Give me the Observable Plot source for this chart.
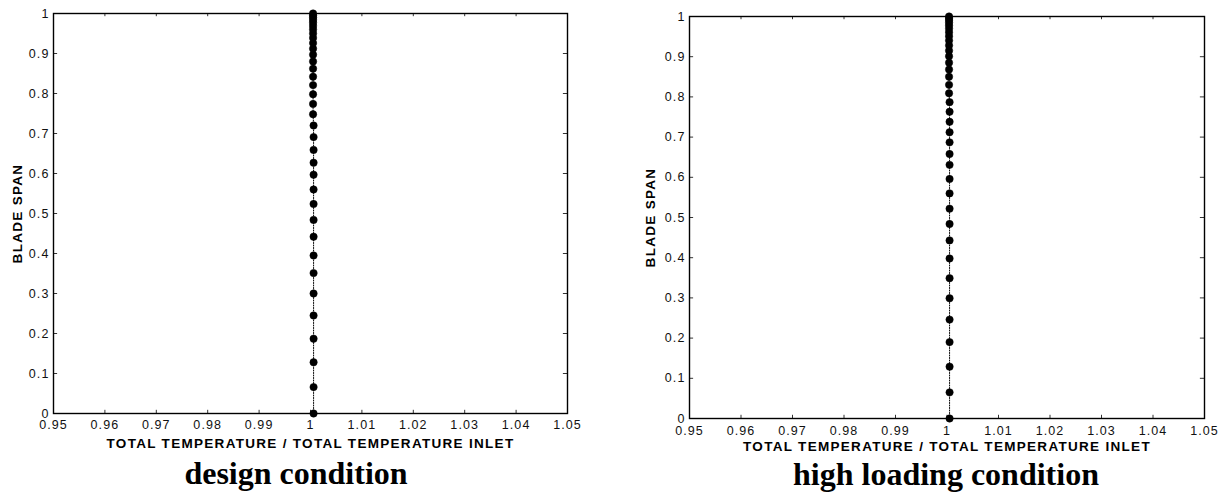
<!DOCTYPE html>
<html>
<head>
<meta charset="utf-8">
<script src="https://cdn.jsdelivr.net/npm/d3@7"></script>
<script src="https://cdn.jsdelivr.net/npm/@observablehq/plot@0.6"></script>
<style>
  body { margin: 0; background: #fff; }
  #wrap { position: relative; width: 1223px; height: 493px; overflow: hidden; background: #fff; }
  .panel { position: absolute; top: 0; }
  .panel svg { font-family: "Liberation Sans", Arial, sans-serif; overflow: visible; }
  .panel [aria-label="x-axis tick label"] text,
  .panel [aria-label="y-axis tick label"] text { font-size: 12.5px; letter-spacing: 1.1px; fill: #111; }
  .panel [aria-label="x-axis label"] text,
  .panel [aria-label="y-axis label"] text { font-size: 13.5px; font-weight: bold; letter-spacing: 1.3px; fill: #000; }
  .title { position: absolute; font-family: "Liberation Serif", "Times New Roman", serif; font-weight: bold;
           font-size: 32px; line-height: 1; color: #000; white-space: nowrap; transform: translateX(-50%); }
</style>
</head>
<body>
<div id="wrap">
  <div id="left" class="panel" style="left:0px"></div>
  <div id="right" class="panel" style="left:611px"></div>
  <div class="title" style="left:296px; top:457px">design condition</div>
  <div class="title" style="left:946px; top:458px">high loading condition</div>
</div>
<script>
// ---- data ----
const xTicks = [0.95, 0.96, 0.97, 0.98, 0.99, 1.00, 1.01, 1.02, 1.03, 1.04, 1.05];
const yTicks = [0, 0.1, 0.2, 0.3, 0.4, 0.5, 0.6, 0.7, 0.8, 0.9, 1];

const spanDesign = [0, 0.066, 0.128, 0.187, 0.245, 0.300, 0.351, 0.395, 0.442, 0.484, 0.524, 0.560,
  0.597, 0.627, 0.659, 0.691, 0.720, 0.748, 0.774, 0.798, 0.821, 0.842, 0.862, 0.880, 0.897, 0.912,
  0.926, 0.939, 0.950, 0.960, 0.969, 0.977, 0.984, 0.990, 0.995, 1.0];
const tempDesign = [1.0006, 1.0006, 1.0006, 1.0006, 1.0006, 1.0006, 1.0006, 1.0006, 1.0006, 1.0006, 1.0006, 1.0006,
  1.0006, 1.0006, 1.0006, 1.0006, 1.0006, 1.0005, 1.0005, 1.0005, 1.0005, 1.0005, 1.0005, 1.0005, 1.0005, 1.0005,
  1.0005, 1.0005, 1.0005, 1.0005, 1.0005, 1.0005, 1.0005, 1.0005, 1.0005, 1.0005];

const spanHigh = [0, 0.065, 0.129, 0.190, 0.246, 0.299, 0.349, 0.398, 0.443, 0.484, 0.522, 0.560,
  0.596, 0.631, 0.658, 0.687, 0.712, 0.738, 0.763, 0.787, 0.809, 0.830, 0.850, 0.868, 0.885, 0.901,
  0.915, 0.928, 0.940, 0.951, 0.961, 0.970, 0.978, 0.985, 0.991, 0.996, 1.0];
const tempHigh = [1.0005, 1.0005, 1.0005, 1.0005, 1.0005, 1.0005, 1.0005, 1.0005, 1.0005, 1.0005, 1.0005, 1.0005,
  1.0005, 1.0005, 1.0005, 1.0005, 1.0005, 1.0005, 1.0005, 1.0005, 1.0004, 1.0004, 1.0004, 1.0004, 1.0004, 1.0004,
  1.0004, 1.0004, 1.0004, 1.0004, 1.0004, 1.0004, 1.0004, 1.0004, 1.0004, 1.0004, 1.0004];

const xLabel = "TOTAL TEMPERATURE / TOTAL TEMPERATURE INLET";
const yLabel = "BLADE SPAN";

function fmtX(d) { return Math.abs(d - 1) < 1e-9 ? "1" : d3.format(".2f")(d); }
function fmtY(d) { return String(+d.toFixed(1)); }

function panel(temps, spans, m) {
  const data = temps.map((t, i) => ({t, s: spans[i]}));
  return Plot.plot({
    width: m.width, height: m.height,
    marginLeft: m.left, marginRight: m.right, marginTop: m.top, marginBottom: m.bottom,
    x: {domain: [0.95, 1.05]},
    y: {domain: [0, 1]},
    marks: [
      // inward ticks (MATLAB style) on all four sides
      Plot.ruleX(xTicks, {y1: 0, y2: 0.008, stroke: "#333", strokeWidth: 1}),
      Plot.ruleX(xTicks, {y1: 1, y2: 0.992, stroke: "#333", strokeWidth: 1}),
      Plot.ruleY(yTicks, {x1: 0.95, x2: 0.9508, stroke: "#333", strokeWidth: 1}),
      Plot.ruleY(yTicks, {x1: 1.05, x2: 1.0492, stroke: "#333", strokeWidth: 1}),
      Plot.axisX({ticks: xTicks, tickFormat: fmtX, tickSize: 0, tickPadding: m.xpad,
        label: xLabel, labelAnchor: "center", labelOffset: m.xlab, labelArrow: "none"}),
      Plot.axisY({ticks: yTicks, tickFormat: fmtY, tickSize: 0, tickPadding: 4,
        label: yLabel, labelAnchor: "center", labelOffset: m.ylab, labelArrow: "none"}),
      Plot.frame({stroke: "#000", strokeWidth: 1.4}),
      Plot.line(data, {x: "t", y: "s", stroke: "#000", strokeWidth: 1, strokeDasharray: "1,1.5"}),
      Plot.dot(data, {x: "t", y: "s", r: 3.7, fill: "#000", stroke: "#000", strokeWidth: 0.5})
    ]
  });
}

document.getElementById("left").append(
  panel(tempDesign, spanDesign, {width: 600, height: 450, left: 53, right: 33, top: 13, bottom: 37, xpad: 7, xlab: 34, ylab: 41}));
document.getElementById("right").append(
  panel(tempHigh, spanHigh, {width: 612, height: 450, left: 78, right: 19, top: 16, bottom: 32, xpad: 8, xlab: 32, ylab: 44}));
</script>
</body>
</html>
